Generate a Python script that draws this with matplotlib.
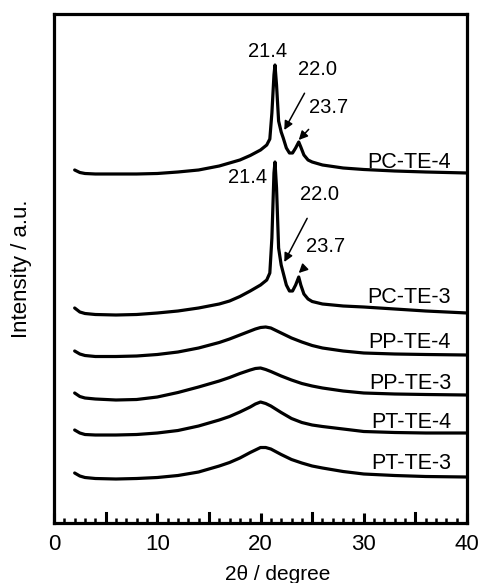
import matplotlib
matplotlib.use("Agg")
import matplotlib.pyplot as plt
from matplotlib.ticker import MultipleLocator, NullLocator

plt.rcParams["font.family"] = ["Liberation Sans", "DejaVu Sans"]

# 2theta grid for the amorphous (broad halo) samples
two_theta_broad = [2, 2.5, 3, 4, 6, 8, 10, 12, 14, 16, 17, 18, 19, 19.5, 20,
                   20.5, 21, 22, 23, 24, 25, 26, 28, 30, 33, 36, 40]

pt_te_3 = [10, 7, 5.5, 4.5, 4, 4.5, 5.5, 7.5, 11, 17, 20.5, 25, 30.5, 33, 35.5,
           35.5, 34, 28.5, 23.5, 20, 17, 15, 11.5, 9, 7.5, 6.5, 6]
pt_te_4 = [13, 10, 8.5, 8, 8, 8.5, 10, 12.5, 17, 23, 26.5, 31, 36, 39, 41,
           39.5, 37, 30.5, 24.5, 20.5, 18, 16.5, 14, 11.5, 10.5, 10, 10]
pp_te_3 = [12, 8.5, 7, 6, 5, 5.5, 8, 12.5, 18, 24, 27.5, 31.5, 35, 36.5, 37,
           35.5, 33.5, 29, 25, 21.5, 19, 17, 14, 12, 11, 10.5, 10]
pp_te_4 = [14, 11, 9.5, 8.5, 8.5, 9, 10.5, 13, 17, 22.5, 26, 30, 34, 36, 37.5,
           38, 37, 32, 27, 23, 19.5, 17, 14, 12, 11, 10.5, 10]

# 2theta grid for the crystalline samples (denser around the reflections)
two_theta_cryst = [2, 2.5, 3, 4, 6, 8, 10, 12, 14, 16, 17, 18, 19, 20, 20.6,
                   20.9, 21.1, 21.3, 21.4, 21.55, 21.75, 22.0, 22.2, 22.5, 22.8,
                   23.1, 23.4, 23.7, 23.9, 24.2, 24.6, 25, 26, 28, 30, 33, 36, 40]

pc_te_3 = [17, 13, 11.5, 10.5, 10, 10.5, 12, 14, 17, 21, 24, 28.5, 34, 40, 45,
           52, 87, 152, 163, 137, 77, 60, 52, 40, 34, 34, 40, 48, 40, 31, 26,
           23.5, 21, 19, 18, 16, 14, 12]
pc_te_4 = [15, 12.5, 11.5, 11, 11, 11, 11.5, 13, 15, 19, 22, 25, 29.5, 35, 40,
           46, 72, 110, 120, 100, 64, 53, 47, 37, 32, 32, 37, 43, 38, 30, 25,
           23, 20, 17, 15.5, 14, 13, 12]

sample_names = ["PT-TE-3", "PT-TE-4", "PP-TE-3", "PP-TE-4", "PC-TE-3", "PC-TE-4"]

# reflection positions marked on the crystalline patterns
peak_labels = ["21.4", "22.0", "23.7"]

x_ticks = [0, 10, 20, 30, 40]

# stacking offsets and label heights for each pattern
curves = [
    (two_theta_broad, pt_te_3, 40, 60),
    (two_theta_broad, pt_te_4, 80, 101),
    (two_theta_broad, pp_te_3, 118, 140),
    (two_theta_broad, pp_te_4, 158, 181),
    (two_theta_cryst, pc_te_3, 198, 226),
    (two_theta_cryst, pc_te_4, 338, 360),
]

fig = plt.figure(figsize=(4.81, 5.83), dpi=100)
ax = fig.add_axes([0.1123, 0.1029, 0.8587, 0.8731])

for name, (xs, ys, off, label_y) in zip(sample_names, curves):
    ax.plot(xs, [v + off for v in ys], color="black", lw=2.3,
            solid_joinstyle="round", solid_capstyle="round")
    ax.text(38.45, label_y, name, ha="right", va="center", fontsize=15.5)

arrow = dict(arrowstyle="-|>", color="black", lw=1.1, mutation_scale=13,
             shrinkA=9, shrinkB=0)
ann_size = 14.5

# PC-TE-4 reflections
ax.text(20.7, 471, peak_labels[0], ha="center", va="center", fontsize=ann_size)
ax.annotate(peak_labels[1], xy=(22.3, 393), xytext=(25.5, 453),
            ha="center", va="center", fontsize=ann_size, arrowprops=arrow)
ax.annotate(peak_labels[2], xy=(23.7, 383), xytext=(26.6, 415),
            ha="center", va="center", fontsize=ann_size, arrowprops=arrow)

# PC-TE-3 reflections
ax.text(18.7, 345, peak_labels[0], ha="center", va="center", fontsize=ann_size)
ax.annotate(peak_labels[1], xy=(22.3, 261), xytext=(25.7, 328),
            ha="center", va="center", fontsize=ann_size, arrowprops=arrow)
ax.annotate(peak_labels[2], xy=(23.7, 250), xytext=(26.3, 276),
            ha="center", va="center", fontsize=ann_size, arrowprops=arrow)

ax.set_xlim(0, 40)
ax.set_ylim(0, 509)
ax.set_xticks(x_ticks)
ax.xaxis.set_minor_locator(MultipleLocator(1))
ax.yaxis.set_major_locator(NullLocator())

ax.tick_params(axis="x", which="major", direction="in", length=7, width=2.2,
               labelsize=16, pad=8)
ax.tick_params(axis="x", which="minor", direction="in", length=3.5, width=1.8)
ax.tick_params(axis="x", which="both", top=False)

# mid-interval ticks drawn as major-style marks at every 5 degrees
for xv in range(5, 40, 10):
    ax.axvline(xv, ymin=0, ymax=7 / 370, color="black", lw=2.2)

for s in ax.spines.values():
    s.set_linewidth(2.3)

ax.set_xlabel("2θ / degree", fontsize=15)
ax.xaxis.set_label_coords(0.542, -0.082)
ax.set_ylabel("Intensity / a.u.", fontsize=16, labelpad=16)

fig.savefig("out.png", dpi=100)
